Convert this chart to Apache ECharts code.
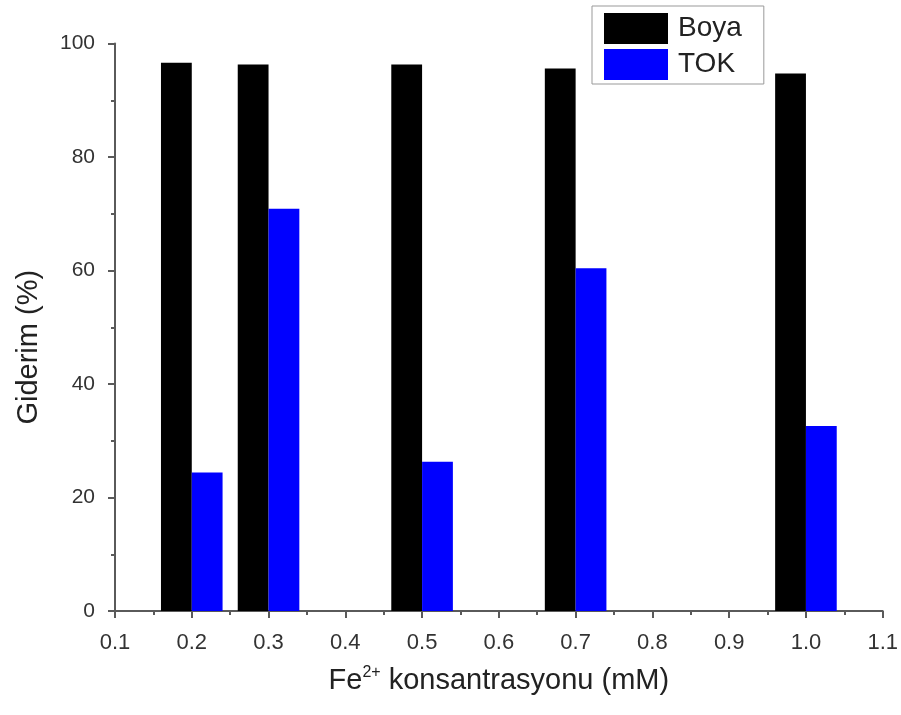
<!DOCTYPE html>
<html>
<head>
<meta charset="utf-8">
<title>Giderim</title>
<script src="https://cdn.jsdelivr.net/npm/echarts@6/dist/echarts.min.js"></script>
<style>
  html, body { margin: 0; padding: 0; background: #ffffff; }
  #chart { width: 901px; height: 715px; }
</style>
</head>
<body>
<div id="chart"></div>
<script>
// Fe2+ concentrations (mM)
const concentrations = [0.2, 0.3, 0.5, 0.7, 1.0];
// Removal (%) for dye and TOC
const boyaValues = [96.6, 96.3, 96.3, 95.6, 94.7];
const tokValues = [24.4, 70.9, 26.3, 60.4, 32.6];
const seriesNames = ['Boya', 'TOK'];

const axisColor = '#5a5a5a';
const labelColor = '#333';
const font = 'Liberation Sans, Arial, sans-serif';

const chart = echarts.init(document.getElementById('chart'), null, { renderer: 'canvas' });

chart.setOption({
  backgroundColor: '#ffffff',
  animation: false,
  grid: { left: 115, right: 16, top: 43.5, bottom: 104 },
  legend: {
    orient: 'vertical',
    left: 592,
    top: 6,
    padding: [7, 22, 4, 12],
    itemWidth: 64,
    itemHeight: 31,
    itemGap: 5,
    borderColor: '#999',
    borderWidth: 1,
    borderRadius: 0,
    icon: 'rect',
    textStyle: { fontFamily: font, fontSize: 28, color: '#222', padding: [0, 0, 0, 5] },
    data: seriesNames
  },
  xAxis: {
    type: 'value',
    min: 0.1,
    max: 1.1,
    interval: 0.1,
    name: '{a|Fe}{sup|2+}{a| konsantrasyonu (mM)}',
    nameLocation: 'middle',
    nameGap: 54,
    nameTextStyle: {
      rich: {
        a: { fontFamily: font, fontSize: 29, color: '#222' },
        sup: { fontFamily: font, fontSize: 16, color: '#222', padding: [0, 0, 15, 0] }
      }
    },
    axisLine: { show: true, lineStyle: { color: axisColor, width: 2 } },
    axisTick: { show: true, inside: false, length: 7, lineStyle: { color: axisColor, width: 2 } },
    minorTick: { show: true, splitNumber: 2, length: 4, lineStyle: { color: axisColor, width: 2 } },
    axisLabel: {
      fontFamily: font, fontSize: 22, color: labelColor, margin: 21,
      formatter: v => v.toFixed(1)
    },
    splitLine: { show: false }
  },
  yAxis: {
    type: 'value',
    min: 0,
    max: 100,
    interval: 20,
    name: 'Giderim (%)',
    nameLocation: 'middle',
    nameGap: 72,
    nameTextStyle: { fontFamily: font, fontSize: 29, color: '#222', padding: [0, 40, 0, 0] },
    axisLine: { show: true, lineStyle: { color: axisColor, width: 2 } },
    axisTick: { show: true, inside: false, length: 7, lineStyle: { color: axisColor, width: 2 } },
    minorTick: { show: true, splitNumber: 2, length: 4, lineStyle: { color: axisColor, width: 2 } },
    axisLabel: { fontFamily: font, fontSize: 21, color: labelColor, margin: 20 },
    splitLine: { show: false }
  },
  series: [
    {
      name: seriesNames[0],
      type: 'bar',
      barWidth: 30.8,
      barGap: '0%',
      itemStyle: { color: '#000000' },
      data: concentrations.map((c, i) => [c, boyaValues[i]])
    },
    {
      name: seriesNames[1],
      type: 'bar',
      barWidth: 30.8,
      barGap: '0%',
      itemStyle: { color: '#0000ff' },
      data: concentrations.map((c, i) => [c, tokValues[i]])
    }
  ]
});
</script>
</body>
</html>
